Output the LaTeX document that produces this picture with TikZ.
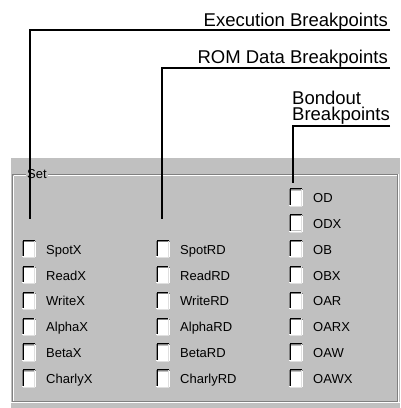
\documentclass[tikz,border=0pt]{standalone}
\usepackage{fontspec}
\setmainfont{Liberation Sans}
\definecolor{panel}{RGB}{192,192,192}
\definecolor{dkgray}{RGB}{128,128,128}
\definecolor{ltgray}{RGB}{223,223,223}
\tikzset{
  ann/.style={inner sep=0pt, font=\fontsize{18.5}{21}\selectfont},
  lbl/.style={inner sep=0pt, anchor=base west, font=\fontsize{13}{15}\selectfont},
  cbx/.style={fill=white, inner sep=0pt, minimum size=14pt, draw=none},
  leader/.style={line width=2pt},
}
\newcommand\chk[4]{%
  \node[cbx] (#1) at (#2+7,#3) {};
  \draw[dkgray, line width=1pt] ([yshift=-0.5pt,xshift=0.5pt]#1.south west) -- ([xshift=0.5pt,yshift=0.5pt]#1.north west) -- ([yshift=0.5pt]#1.north east);
  \draw[black, line width=1pt] ([yshift=-1.5pt,xshift=1.5pt]#1.south west) -- ([xshift=1.5pt,yshift=1.5pt]#1.north west) -- ([xshift=-1pt,yshift=1.5pt]#1.north east);
  \draw[white, line width=1pt] ([xshift=0.5pt,yshift=-0.5pt]#1.south west) -- ([xshift=-0.5pt,yshift=-0.5pt]#1.south east) -- ([xshift=-0.5pt]#1.north east);
  \draw[ltgray, line width=1pt] ([xshift=1.5pt,yshift=-1.5pt]#1.south west) -- ([xshift=-1.5pt,yshift=-1.5pt]#1.south east) -- ([xshift=-1.5pt,yshift=1.5pt]#1.north east);
  \node[lbl] (#1-t) at (#2+24,#3+5) {#4};
}
\begin{document}
\begin{tikzpicture}[x=1pt,y=-1pt]
\useasboundingbox (0,0) rectangle (400,408);
\fill[white] (0,0) rectangle (400,408);
% panel
\fill[panel] (11,158) rectangle (400,408);
% group frame (etched)
\draw[dkgray, line width=1pt] (12.5,174.5) rectangle (397.5,401.5);
\draw[white, line width=1pt] (13.5,175.5) -- (13.5,400.5);
\draw[white, line width=1pt] (13.5,175.5) -- (396.5,175.5);
\draw[white, line width=1pt] (11,402.5) -- (400,402.5);
\draw[white, line width=1pt] (398.5,174) -- (398.5,402);
\node[fill=panel, inner sep=1.5pt, font=\fontsize{13}{15}\selectfont] (set) at (37,174) {Set};
% checkboxes column 1
\chk{spotx}{22}{249.2}{SpotX}
\chk{readx}{22}{275}{ReadX}
\chk{writex}{22}{300.9}{WriteX}
\chk{alphax}{22}{326.8}{AlphaX}
\chk{betax}{22}{352.6}{BetaX}
\chk{charlyx}{22}{378.5}{CharlyX}
% column 2
\chk{spotrd}{156}{249.2}{SpotRD}
\chk{readrd}{156}{275}{ReadRD}
\chk{writerd}{156}{300.9}{WriteRD}
\chk{alphard}{156}{326.8}{AlphaRD}
\chk{betard}{156}{352.6}{BetaRD}
\chk{charlyrd}{156}{378.5}{CharlyRD}
% column 3
\chk{od}{289}{197.5}{OD}
\chk{odx}{289}{223.3}{ODX}
\chk{ob}{289}{249.2}{OB}
\chk{obx}{289}{275}{OBX}
\chk{oar}{289}{300.9}{OAR}
\chk{oarx}{289}{326.8}{OARX}
\chk{oaw}{289}{352.6}{OAW}
\chk{oawx}{289}{378.5}{OAWX}
% annotations
\node[ann, anchor=base east] (exec) at (388,26) {Execution Breakpoints};
\node[ann, anchor=base east] (rom) at (388,63.5) {ROM Data Breakpoints};
\node[ann, anchor=base west] (bond1) at (292,104) {Bondout};
\node[ann, anchor=base west] (bond2) at (292,120.7) {Breakpoints};
\coordinate (e0) at (390,30);
\coordinate (e1) at (30,219);
\coordinate (r0) at (390,68);
\coordinate (r1) at (162,219);
\coordinate (b0) at (390,126);
\coordinate (b1) at (293,183);
\draw[leader] (e0) -| (e1);
\draw[leader] (r0) -| (r1);
\draw[leader] (b0) -| (b1);
\end{tikzpicture}
\end{document}
